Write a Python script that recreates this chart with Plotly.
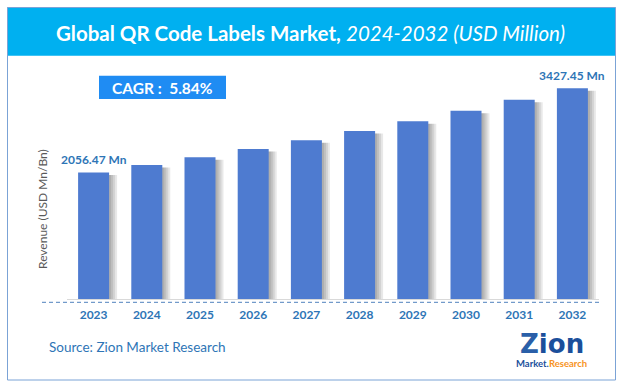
import plotly.graph_objects as go

# ---------------- data ----------------
years = ["2023", "2024", "2025", "2026", "2027", "2028", "2029", "2030", "2031", "2032"]
revenue = [2056.47, 2177.0, 2304.0, 2438.0, 2581.0, 2731.0, 2891.0, 3060.0, 3238.0, 3427.45]
label_years = ["2023", "2032"]
label_values = [2056.47, 3427.45]
label_texts = ["2056.47 Mn", "3427.45 Mn"]
cagr_text = "CAGR :  5.84%"
title_main = "Global QR Code Labels Market,"
title_sub = "2024-2032 (USD Million)"
y_title = "Revenue (USD Mn/Bn)"
source_text = "Source: Zion Market Research"

# ---------------- geometry helpers ----------------
W, H = 624, 389
L, R, T, B = 67, 25, 74, 90
PW = W - L - R
PH = H - T - B
BASE = H - B


def px(x):
    return (x - L) / PW


def py(y):
    return (BASE - y) / PH


YMAX = PH / 0.0615
unit = 10.0 / PW  # category units per pixel
bw = 31 * unit

BAR = "#4e7bd0"
TXT_BLUE = "#2e75b6"
FONT = "Lato"

fig = go.Figure()

# soft shadows to the right of each bar
for s in [2, 4, 6, 8]:
    fig.add_trace(go.Bar(
        x=years, y=[v - 40 for v in revenue], width=bw, offset=-bw / 2 + s * unit,
        marker=dict(color="rgba(0,0,0,0.09)", line=dict(width=0)),
        hoverinfo="skip", showlegend=False,
    ))

fig.add_trace(go.Bar(
    x=years, y=revenue, width=bw,
    marker=dict(color=BAR, line=dict(width=0)),
    hoverinfo="skip", showlegend=False,
))

shapes = [
    # title band
    dict(type="rect", xref="paper", yref="paper", x0=px(7.3), x1=px(615.5), y0=py(7.3), y1=py(55.7),
         fillcolor="#00b0f0", line=dict(width=0), layer="below"),
    # outer border
    dict(type="rect", xref="paper", yref="paper", x0=px(7.5), x1=px(615.5), y0=py(7.5), y1=py(380),
         fillcolor="rgba(0,0,0,0)", line=dict(color="#7ba3d6", width=1), layer="above"),
    # CAGR box
    dict(type="rect", xref="paper", yref="paper", x0=px(99), x1=px(226), y0=py(75.7), y1=py(99),
         fillcolor="#1f8cf3", line=dict(width=0), layer="above"),
    # dashed baseline
    dict(type="line", xref="paper", yref="paper", x0=px(42), x1=px(600), y0=py(302.3), y1=py(302.3),
         line=dict(color="#4f81bd", width=1, dash="4px,3px")),
]

annotations = [
    dict(xref="paper", yref="paper", x=px(310), y=py(33), xanchor="center", yanchor="middle",
         text="<b>" + title_main + "</b> <i>" + title_sub + "</i>", showarrow=False,
         font=dict(family=FONT, size=20.5, color="white")),
    dict(xref="paper", yref="paper", x=px(162), y=py(87.5), xanchor="center", yanchor="middle",
         text="<b>" + cagr_text + "</b>", showarrow=False,
         font=dict(family=FONT, size=15.5, color="white")),
    dict(xref="paper", yref="paper", x=px(42), y=py(209), xanchor="center", yanchor="middle",
         text=y_title, textangle=-90, showarrow=False,
         font=dict(family=FONT, size=12, color="#595959")),
    dict(xref="paper", yref="paper", x=px(47), y=py(346.7), xanchor="left", yanchor="middle",
         text=source_text, showarrow=False,
         font=dict(family=FONT, size=13.5, color=TXT_BLUE)),
    dict(xref="paper", yref="paper", x=px(552), y=py(344), xanchor="center", yanchor="middle",
         text="<b>Z<span style='color:#1b4f9b'>ion</span></b>", showarrow=False,
         font=dict(family="DejaVu Sans", size=26, color="#2a5fa8")),
    dict(xref="paper", yref="paper", x=px(551), y=py(363), xanchor="center", yanchor="middle",
         text="<b><span style='color:#1b4f9b'>Market.</span><span style='color:#f7931e'>Research</span></b>",
         showarrow=False, font=dict(family=FONT, size=9.5)),
]

for yr, v, t in zip(label_years, label_values, label_texts):
    annotations.append(dict(
        x=years.index(yr), y=v, xref="x", yref="y", yshift=13, xanchor="center", yanchor="middle",
        text="<b>" + t + "</b>", showarrow=False,
        font=dict(family=FONT, size=12, color=TXT_BLUE)))

fig.update_layout(
    width=W, height=H,
    margin=dict(l=L, r=R, t=T, b=B, pad=0),
    paper_bgcolor="white", plot_bgcolor="white",
    barmode="overlay", showlegend=False,
    shapes=shapes, annotations=annotations,
    xaxis=dict(type="category", range=[-0.5, 9.5], showgrid=False, zeroline=False,
               showline=True, linecolor="#d9d9d9", linewidth=1, ticks="",
               tickfont=dict(family=FONT, size=12, color=TXT_BLUE, weight="bold"),
               ticklabelstandoff=5, fixedrange=True),
    yaxis=dict(range=[0, YMAX], visible=False, fixedrange=True),
)

fig.write_html("out.html", config={"displayModeBar": False},
               post_script="document.body.style.margin='0';document.body.style.padding='0';")
